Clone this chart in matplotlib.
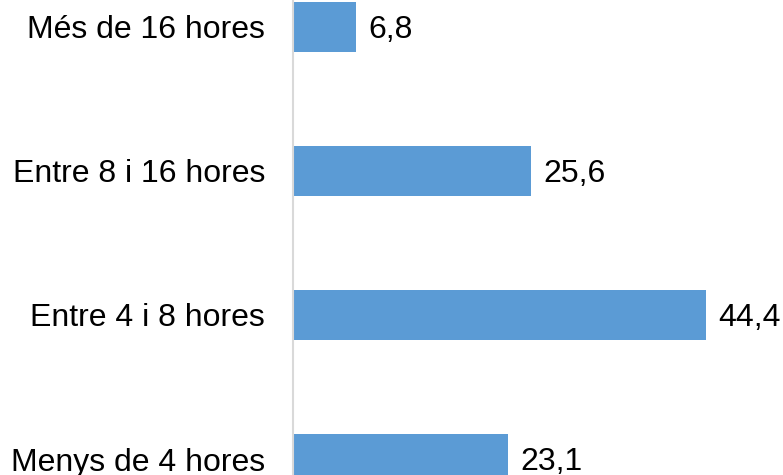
import matplotlib.pyplot as plt

categories = ["Menys de 4 hores", "Entre 4 i 8 hores", "Entre 8 i 16 hores", "Més de 16 hores"]
values = [23.1, 44.4, 25.6, 6.8]
labels = ["23,1", "44,4", "25,6", "6,8"]

plt.rcParams['font.family'] = ['Liberation Sans', 'DejaVu Sans']

fig = plt.figure(figsize=(7.83, 4.75), dpi=100)
# axes from x=293px to right edge, full height
ax = fig.add_axes([293 / 783, 0, 1 - 293 / 783, 1])

pos = list(range(len(categories)))
ax.barh(pos, values, height=0.354, color='#5B9BD5', zorder=2)

for p, v, lab in zip(pos, values, labels):
    ax.annotate(lab, (v, p), xytext=(9, -2), textcoords='offset points',
                va='center', ha='left', fontsize=23, color='black')

ax.set_xlim(0, 490 / 9.3)
ax.set_ylim(-16 / 144, 459 / 144)
ax.set_yticks(pos)
ax.set_yticklabels(categories, fontsize=23)
ax.tick_params(axis='y', length=0, pad=20)
ax.set_xticks([])
for s in ['top', 'right', 'bottom']:
    ax.spines[s].set_visible(False)
ax.spines['left'].set_color('#D9D9D9')
ax.spines['left'].set_linewidth(1.5)
ax.patch.set_alpha(0)

fig.savefig('out.png', dpi=100)
